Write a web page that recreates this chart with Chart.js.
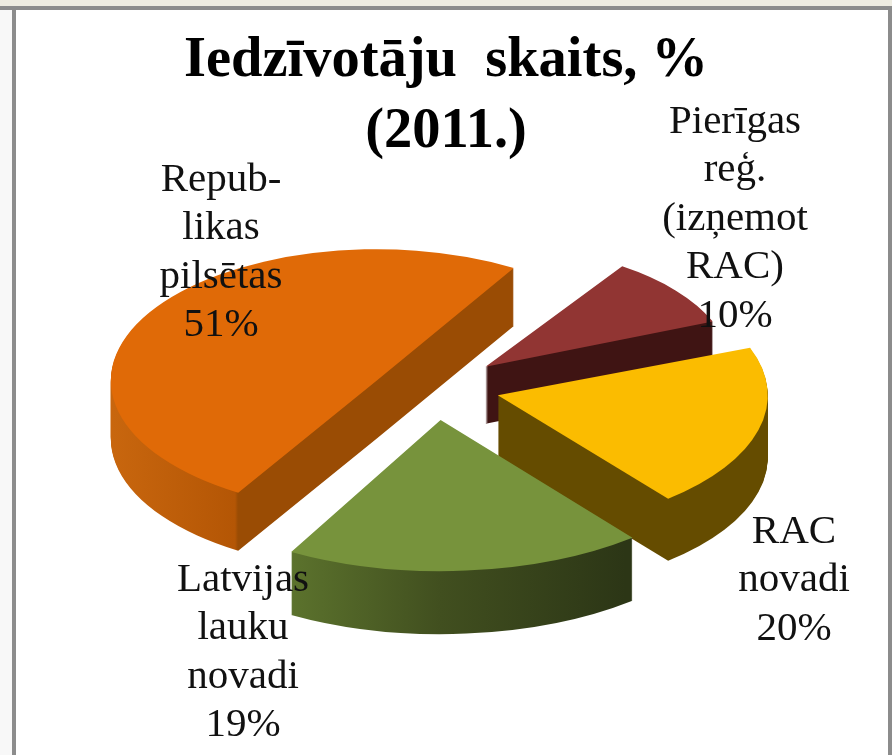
<!DOCTYPE html>
<html>
<head>
<meta charset="utf-8">
<script src="https://cdn.jsdelivr.net/npm/chart.js@4"></script>
<style>
body { margin: 0; background: #fff; width: 892px; height: 755px; overflow: hidden; position: relative; }
.edge { position: absolute; background: #8c8c8c; }
canvas { position: absolute; left: 0; top: 0; filter: blur(0.5px); }
</style>
</head>
<body>
<div class="edge" style="left:0;top:0;width:892px;height:6px;background:#eeece1"></div>
<div class="edge" style="left:0;top:6px;width:892px;height:4px"></div>
<div class="edge" style="left:0;top:10px;width:12px;height:745px;background:#f8f8f8"></div>
<div class="edge" style="left:12px;top:6px;width:4px;height:749px"></div>
<div class="edge" style="left:888px;top:6px;width:4px;height:749px"></div>
<canvas id="chart" width="892" height="755"></canvas>
<script>
const categories = ['Republikas pilsētas', 'Pierīgas reģ. (izņemot RAC)', 'RAC novadi', 'Latvijas lauku novadi'];
const values = [51, 10, 20, 19];
const titleLines = ['Iedzīvotāju  skaits, %', '(2011.)'];
const faceColors = ['#e06a07', '#913533', '#fbbc00', '#77933c'];

// label text, one row per line
const labelLines = [
    ['Repub-', 'likas', 'pilsētas', '51%'],
    ['Pierīgas', 'reģ.', '(izņemot', 'RAC)', '10%'],
    ['RAC', 'novadi', '20%'],
    ['Latvijas', 'lauku', 'novadi', '19%']
];
const labelAnchors = [[221, 180], [735, 122], [794, 532], [243, 580]];

const sliceOffsets = [272, 260, 260, 268];   // chart.js divides this by 4
const sliceRadii = [266, 245, 270, 306];     // fake perspective, front is bigger
const sliceDepths = [58, 57, 62, 63];
const sliceLifts = [11, 0, 0, 0];            // the explode is not quite radial in the 3d view
const wallStops = [
    [[113, '#c8660e'], [235, '#b45605'], [238, '#9a4c04'], [520, '#9a4c04']],
    [[480, '#3f1413'], [720, '#3f1413']],
    [[495, '#654c00'], [770, '#654c00']],
    [[288, '#5c732d'], [440, '#414f1f'], [625, '#2c3616']]
];
const pieCenter = [435, 387];
const squash = 0.494;
const paintOrder = [1, 0, 2, 3];

const pie3d = {
    id: 'pie3d',
    beforeDatasetDraw(chart) {
        const ctx = chart.ctx;
        const arcs = chart.getDatasetMeta(0).data;

        // one slice, pushed down by d px
        function place(i, d) {
            const el = arcs[i];
            const mid = (el.startAngle + el.endAngle) / 2;
            const o = sliceOffsets[i] / 4;
            const ax = el.x + Math.cos(mid) * o;
            const ay = el.y + Math.sin(mid) * o;
            const fix = 1 - Math.sin(Math.min(Math.PI, el.circumference));
            const f = sliceRadii[i] / (el.outerRadius + o * fix);
            ctx.translate(pieCenter[0] - el.x, pieCenter[1] + d + sliceLifts[i]);
            ctx.scale(1, squash);
            ctx.translate(0, -el.y);
            ctx.translate(ax, ay);
            ctx.scale(f, f);
            ctx.translate(-ax, -ay);
            return {f, ax, offX: Math.cos(mid) * o, shift: pieCenter[0] - el.x};
        }

        function wallFill(i, p) {
            const stops = wallStops[i];
            const toLocal = px => (px - p.shift - p.ax) / p.f + p.ax - p.offX;
            const x0 = stops[0][0];
            const x1 = stops[stops.length - 1][0];
            const g = ctx.createLinearGradient(toLocal(x0), 0, toLocal(x1), 0);
            stops.forEach(s => g.addColorStop((s[0] - x0) / (x1 - x0), s[1]));
            return g;
        }

        paintOrder.forEach(i => {
            const el = arcs[i];
            const saved = el.options;
            for (let d = sliceDepths[i]; d > 0; d--) {
                ctx.save();
                const p = place(i, d);
                el.options = Object.assign({}, saved, {backgroundColor: wallFill(i, p)});
                el.draw(ctx);
                ctx.restore();
            }
            el.options = saved;
        });
        paintOrder.forEach(i => {
            ctx.save();
            place(i, 0);
            arcs[i].draw(ctx);
            ctx.restore();
        });
        return false;
    },
    afterDraw(chart) {
        const ctx = chart.ctx;
        ctx.save();
        ctx.fillStyle = '#111';
        ctx.font = "41px 'Liberation Serif'";
        ctx.textAlign = 'center';
        ctx.textBaseline = 'middle';
        labelLines.forEach((lines, i) => {
            lines.forEach((t, j) => {
                ctx.fillText(t, labelAnchors[i][0], labelAnchors[i][1] + j * 48.5);
            });
        });
        ctx.restore();
    }
};

new Chart(document.getElementById('chart').getContext('2d'), {
    type: 'pie',
    data: {
        labels: categories,
        datasets: [{
            data: values,
            backgroundColor: faceColors,
            borderWidth: 0,
            offset: sliceOffsets,
            clip: false
        }]
    },
    options: {
        responsive: false,
        animation: false,
        rotation: 209.4,
        radius: 240,
        plugins: {
            legend: { display: false },
            tooltip: { enabled: false },
            title: {
                display: true,
                text: titleLines,
                color: '#000',
                font: { family: "'Liberation Serif'", size: 56.5, weight: 'bold', lineHeight: 1.25 },
                padding: { top: 26, bottom: 0 }
            }
        }
    },
    plugins: [pie3d]
});
</script>
</body>
</html>
